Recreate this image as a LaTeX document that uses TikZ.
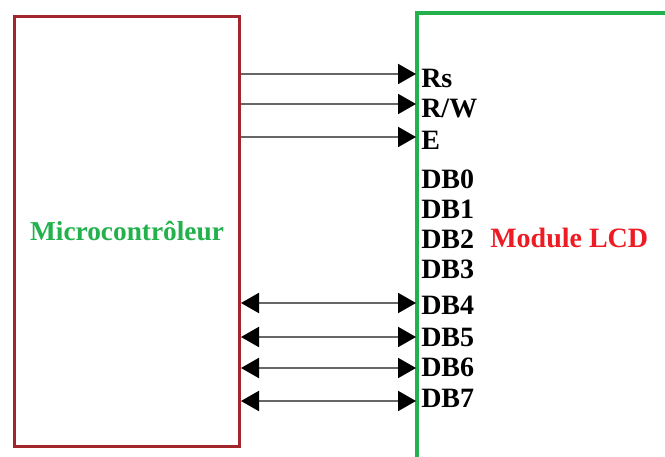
\documentclass[tikz,border=0pt]{standalone}
\usepackage{fontspec}
\setmainfont{Liberation Serif}
\usepackage{tikz}
\usetikzlibrary{arrows.meta,positioning}
\usepackage{xcolor}
\definecolor{mcured}{RGB}{163,38,44}
\definecolor{lcdgreen}{RGB}{34,177,76}
\definecolor{lcdred}{RGB}{237,28,36}

\begin{document}
\begin{tikzpicture}[
  x=0.75pt, y=-0.75pt,
  mcu/.style={draw=mcured, line width=2.25pt, minimum width=168.75pt,
    minimum height=322.5pt, inner sep=0pt, align=center,
    font=\fontsize{20.5}{24}\selectfont\bfseries, text=lcdgreen},
  lcdline/.style={draw=lcdgreen, line width=3pt},
  pin/.style={anchor=base west, inner sep=0pt, font=\fontsize{21}{24}\selectfont\bfseries},
  sig/.style={-{Triangle[length=13.5pt, width=15pt, color=black]}, draw=black!60, line width=1.5pt},
  bus/.style={{Triangle[length=13.5pt, width=15pt, color=black]}-{Triangle[length=13.5pt, width=15pt, color=black]},
    draw=black!60, line width=1.5pt}
]
\useasboundingbox (0,0) rectangle (665,457);
\node[mcu] (mcu) at (127,231) {Microcontr\^oleur};
\draw[lcdline] (417,462) -- (417,13) -- (670,13);
\node[anchor=base west, inner sep=0pt, text=lcdred,
  font=\fontsize{21}{24}\selectfont\bfseries] (lcd) at (490,247) {Module LCD};
% pins of the LCD
\coordinate (rs) at (416,74);
\coordinate (rw) at (416,104);
\coordinate (en) at (416,137);
\coordinate (db4) at (416,303);
\coordinate (db5) at (416,337);
\coordinate (db6) at (416,368);
\coordinate (db7) at (416,401);
\node[pin] (lrs) at (421,87) {Rs};
\node[pin] (lrw) at (421,117) {R/W};
\node[pin] (len) at (421,149) {E};
\node[pin] (ldb0) at (421,188) {DB0};
\node[pin] (ldb1) at (421,218) {DB1};
\node[pin] (ldb2) at (421,248) {DB2};
\node[pin] (ldb3) at (421,278) {DB3};
\node[pin] (ldb4) at (421,314) {DB4};
\node[pin] (ldb5) at (421,346) {DB5};
\node[pin] (ldb6) at (421,376) {DB6};
\node[pin] (ldb7) at (421,407) {DB7};
% control lines
\draw[sig] (mcu.east |- rs) -- (rs);
\draw[sig] (mcu.east |- rw) -- (rw);
\draw[sig] (mcu.east |- en) -- (en);
% data lines
\draw[bus] (mcu.east |- db4) -- (db4);
\draw[bus] (mcu.east |- db5) -- (db5);
\draw[bus] (mcu.east |- db6) -- (db6);
\draw[bus] (mcu.east |- db7) -- (db7);
\end{tikzpicture}
\end{document}
